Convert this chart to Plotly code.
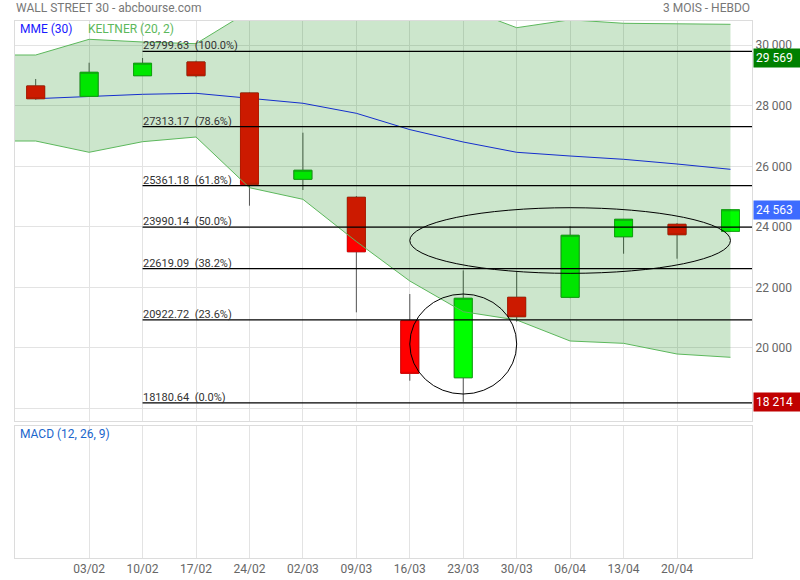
import plotly.graph_objects as go

# ---------------- data ----------------
dates = ['2020-01-27', '2020-02-03', '2020-02-10', '2020-02-17', '2020-02-24',
         '2020-03-02', '2020-03-09', '2020-03-16', '2020-03-23', '2020-03-30',
         '2020-04-06', '2020-04-13', '2020-04-20', '2020-04-27']
open_ = [28655, 28314, 28995, 29448, 28423, 25570, 24975, 20895, 19011, 21669,
         21669, 23672, 24082, 23851]
high = [28886, 29425, 29580, 29491, 28440, 27111, 25018, 21778, 22560, 22515,
        24026, 24260, 24125, 24588]
low = [28200, 28300, 28990, 28942, 24697, 25216, 21173, 18912, 18214, 20862,
       21640, 23110, 22945, 23840]
close = [28235, 29107, 29405, 28995, 25405, 25868, 23176, 19156, 21636, 21028,
         23719, 24248, 23739, 24563]

mme30 = [28235, 28314, 28380, 28413, 28241, 28083, 27752, 27213, 26803, 26463,
         26340, 26231, 26076, 25900]

band_dates = ['2020-01-20'] + dates
kel_upper = [29679, 29679, 30198, 30109, 30053, 31134, 31300, 31350, 31300, 31246,
             30582, 30843, 30727, 30721, 30694]
kel_lower = [26836, 26836, 26463, 26813, 26968, 25292, 24909, 23514, 22208, 21193,
             20919, 20225, 20148, 19795, 19686]

fib_levels = [29799.63, 27313.17, 25361.18, 23990.14, 22619.09, 20922.72, 18180.64]
fib_pcts = ['100.0%', '78.6%', '61.8%', '50.0%', '38.2%', '23.6%', '0.0%']

tick_dates = dates[1:13]
tick_text = ['03/02', '10/02', '17/02', '24/02', '02/03', '09/03', '16/03',
             '23/03', '30/03', '06/04', '13/04', '20/04']
y_tickvals = [18000, 20000, 22000, 24000, 26000, 28000, 30000]
y_ticktext = ['', '20 000', '22 000', '24 000', '26 000', '28 000', '30 000']

last_high_label = 29569
last_close_label = 24563
last_low_label = 18214

# ---------------- figure ----------------
X_RANGE = ['2020-01-24 07:00', '2020-04-29 19:40']
Y_RANGE = [17580, 30803]
GRID = '#e3e3e3'
BORDER = '#dcdcdc'

fig = go.Figure()

# MME line (below candles)
fig.add_trace(go.Scatter(x=dates, y=mme30, mode='lines',
                         line=dict(color='#1a1aff', width=1),
                         xaxis='x', yaxis='y', hoverinfo='skip'))

# wicks
fig.add_trace(go.Candlestick(
    x=dates, open=open_, high=high, low=low, close=close,
    increasing=dict(line=dict(color='#555555', width=1), fillcolor='#00ff00'),
    decreasing=dict(line=dict(color='#555555', width=1), fillcolor='#ff0000'),
    whiskerwidth=0, xaxis='x', yaxis='y3', hoverinfo='skip'))

# bodies
body_hi = [max(o, c) for o, c in zip(open_, close)]
body_lo = [min(o, c) for o, c in zip(open_, close)]
fig.add_trace(go.Candlestick(
    x=dates, open=open_, high=body_hi, low=body_lo, close=close,
    increasing=dict(line=dict(color='#12b012', width=1), fillcolor='#00ff00'),
    decreasing=dict(line=dict(color='#e00000', width=1), fillcolor='#ff0000'),
    whiskerwidth=0, xaxis='x', yaxis='y3', hoverinfo='skip'))

# Keltner band (drawn over candles)
fig.add_trace(go.Scatter(x=band_dates, y=kel_lower, mode='lines',
                         line=dict(color='#5cb85c', width=1),
                         xaxis='x', yaxis='y3', hoverinfo='skip'))
fig.add_trace(go.Scatter(x=band_dates, y=kel_upper, mode='lines',
                         line=dict(color='#5cb85c', width=1),
                         fill='tonexty', fillcolor='rgba(0,128,0,0.2)',
                         xaxis='x', yaxis='y3', hoverinfo='skip'))

# empty MACD panel trace
fig.add_trace(go.Scatter(x=[dates[0]], y=[0.5], mode='markers',
                         marker=dict(opacity=0), xaxis='x2', yaxis='y2',
                         hoverinfo='skip'))

shapes = []
annotations = []

# Fibonacci lines + labels
for lvl, pct in zip(fib_levels, fib_pcts):
    shapes.append(dict(type='line', xref='x', yref='y', x0=tick_dates[1], x1=X_RANGE[1],
                       y0=lvl, y1=lvl, line=dict(color='black', width=1.3)))
    annotations.append(dict(xref='x', yref='y', x=tick_dates[1], y=lvl,
                            xanchor='left', yanchor='bottom', showarrow=False,
                            text=f'{lvl:.2f}\u00a0\u00a0({pct})', xshift=-2, yshift=-3,
                            font=dict(size=11, color='#333333', family='Roboto')))

# ellipse and circle
shapes.append(dict(type='circle', xref='x', yref='y', x0='2020-03-16', x1='2020-04-27',
                   y0=22462, y1=24631, line=dict(color='black', width=1)))
shapes.append(dict(type='circle', xref='x', yref='y', x0='2020-03-16', x1='2020-03-30',
                   y0=18472, y1=21778, line=dict(color='black', width=1)))

# right side price labels
for val, bg in [(last_high_label, '#008000'), (last_close_label, '#3d6bff'),
                (last_low_label, '#c00000')]:
    annotations.append(dict(xref='paper', yref='y', x=1, y=val, xanchor='left',
                            yanchor='middle', showarrow=False, xshift=1,
                            text=f'{val:,}'.replace(',', ' '), bgcolor=bg,
                            width=43, align='left', borderpad=2,
                            font=dict(size=12, color='white', family='Roboto')))

# header texts
annotations.append(dict(xref='paper', yref='paper', x=0, y=1, xanchor='left',
                        yanchor='middle', yshift=13, showarrow=False, xshift=-1,
                        text='WALL STREET 30 - abcbourse.com',
                        font=dict(size=12, color='#777777', family='Roboto')))
annotations.append(dict(xref='paper', yref='paper', x=1, y=1, xanchor='right',
                        yanchor='middle', yshift=13, showarrow=False, xshift=0,
                        text='3 MOIS - HEBDO',
                        font=dict(size=12, color='#777777', family='Roboto')))
# legend texts
annotations.append(dict(xref='paper', yref='paper', x=0, y=1, xanchor='left',
                        yanchor='middle', yshift=-8, xshift=3, showarrow=False,
                        text='MME (30)', font=dict(size=12, color='#1a1aff', family='Roboto')))
annotations.append(dict(xref='paper', yref='paper', x=0, y=1, xanchor='left',
                        yanchor='middle', yshift=-8, xshift=71, showarrow=False,
                        text='KELTNER (20, 2)', font=dict(size=12, color='#5cb85c', family='Roboto')))
annotations.append(dict(xref='paper', yref='y2 domain', x=0, y=1, xanchor='left',
                        yanchor='middle', yshift=-8, xshift=3, showarrow=False,
                        text='MACD (12, 26, 9)', font=dict(size=12, color='#1a66cc', family='Roboto')))

fig.update_layout(
    width=800, height=580,
    margin=dict(l=15, r=48, t=21, b=22, autoexpand=False),
    paper_bgcolor='white', plot_bgcolor='white',
    showlegend=False,
    font=dict(family='Roboto', size=12, color='#666666'),
    boxgap=0.52, boxgroupgap=0.3, boxmode='overlay',
    xaxis=dict(type='date', range=X_RANGE, anchor='y', tickvals=tick_dates,
               showticklabels=False, showgrid=True, gridcolor=GRID,
               showline=True, mirror=True, linecolor=BORDER, zeroline=False,
               rangeslider=dict(visible=False), ticks='', automargin=False),
    xaxis2=dict(type='date', range=X_RANGE, anchor='y2', matches='x',
                tickvals=tick_dates, ticktext=tick_text, showgrid=True,
                gridcolor=GRID, showline=True, mirror=True, linecolor=BORDER,
                zeroline=False, ticks='', tickfont=dict(size=12, color='#666666'),
                rangeslider=dict(visible=False), automargin=False),
    yaxis=dict(domain=[0.2551, 1], range=Y_RANGE, side='right', anchor='x',
               tickvals=y_tickvals, ticktext=y_ticktext, showgrid=True,
               gridcolor=GRID, showline=True, mirror=True, linecolor=BORDER,
               zeroline=False, ticks='', tickfont=dict(size=12, color='#666666'),
               automargin=False),
    yaxis3=dict(overlaying='y', range=Y_RANGE, visible=False, anchor='x',
                showgrid=False, automargin=False),
    yaxis2=dict(domain=[0, 0.2458], range=[0, 1], anchor='x2', showgrid=False,
                showticklabels=False, showline=True, mirror=True,
                linecolor=BORDER, zeroline=False, ticks='', automargin=False),
    shapes=shapes, annotations=annotations,
)

fig.write_html('out.html', config={'displayModeBar': False},
               post_script="document.body.style.margin='0px';")
